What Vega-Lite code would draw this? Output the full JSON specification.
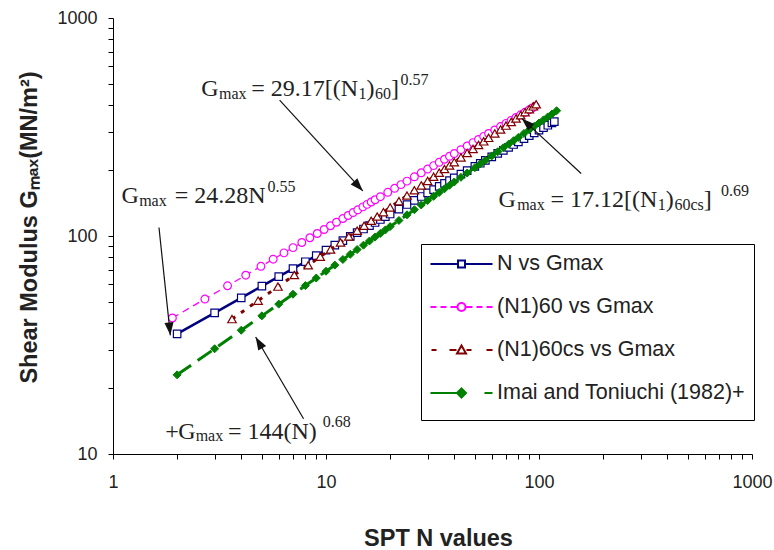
{
"$schema": "https://vega.github.io/schema/vega-lite/v6.json",
"width": 639, "height": 436,
"autosize": {"type": "none"},
"padding": {"left": 113, "top": 18, "right": 22, "bottom": 96},
"background": "white",
"config": {
  "view": {"stroke": null},
  "axis": {"grid": false, "domainColor": "#000", "domainWidth": 1, "tickColor": "#000", "tickWidth": 1, "tickSize": 5,
    "labelFont": "Liberation Sans", "labelFontSize": 18, "labelColor": "#222", "labelOverlap": false, "labelFlush": false,
    "titleFont": "Liberation Sans", "titleFontSize": 23.5, "titleFontWeight": "bold", "titleColor": "#222"},
  "legend": {"orient": "none", "legendX": 308, "legendY": 226, "title": null, "direction": "vertical",
    "symbolSize": 400, "symbolStrokeWidth": 2, "labelFont": "Liberation Sans", "labelFontSize": 21.5, "labelColor": "#222",
    "labelOffset": 45, "labelLimit": 400, "rowPadding": 7, "padding": 9, "strokeColor": "#000", "fillColor": "#fff"}
},
"datasets": {
  "pts": [
    {"s":"N vs Gmax","x":2,"y":35.55},{"s":"N vs Gmax","x":3,"y":44.43},{"s":"N vs Gmax","x":4,"y":52.05},{"s":"N vs Gmax","x":5,"y":58.84},
    {"s":"N vs Gmax","x":6,"y":65.05},{"s":"N vs Gmax","x":7,"y":70.8},{"s":"N vs Gmax","x":8,"y":76.2},{"s":"N vs Gmax","x":9,"y":81.3},
    {"s":"N vs Gmax","x":10,"y":86.15},{"s":"N vs Gmax","x":11,"y":90.79},{"s":"N vs Gmax","x":12,"y":95.23},{"s":"N vs Gmax","x":13,"y":99.52},
    {"s":"N vs Gmax","x":14,"y":103.66},{"s":"N vs Gmax","x":15,"y":107.67},{"s":"N vs Gmax","x":16,"y":111.56},{"s":"N vs Gmax","x":17,"y":115.34},
    {"s":"N vs Gmax","x":18,"y":119.04},{"s":"N vs Gmax","x":19,"y":122.63},{"s":"N vs Gmax","x":20,"y":126.14},{"s":"N vs Gmax","x":22,"y":132.92},
    {"s":"N vs Gmax","x":24,"y":139.44},{"s":"N vs Gmax","x":26,"y":145.7},{"s":"N vs Gmax","x":28,"y":151.76},{"s":"N vs Gmax","x":30,"y":157.64},
    {"s":"N vs Gmax","x":32,"y":163.33},{"s":"N vs Gmax","x":34,"y":168.87},{"s":"N vs Gmax","x":36,"y":174.26},{"s":"N vs Gmax","x":38,"y":179.53},
    {"s":"N vs Gmax","x":40,"y":184.67},{"s":"N vs Gmax","x":43,"y":192.16},{"s":"N vs Gmax","x":46,"y":199.42},{"s":"N vs Gmax","x":50,"y":208.78},
    {"s":"N vs Gmax","x":53,"y":215.58},{"s":"N vs Gmax","x":56,"y":222.21},{"s":"N vs Gmax","x":60,"y":230.81},{"s":"N vs Gmax","x":64,"y":239.14},
    {"s":"N vs Gmax","x":68,"y":247.24},{"s":"N vs Gmax","x":72,"y":255.14},{"s":"N vs Gmax","x":76,"y":262.86},{"s":"N vs Gmax","x":80,"y":270.36},
    {"s":"N vs Gmax","x":85,"y":279.54},{"s":"N vs Gmax","x":90,"y":288.45},{"s":"N vs Gmax","x":95,"y":297.16},{"s":"N vs Gmax","x":100,"y":305.66},
    {"s":"N vs Gmax","x":105,"y":313.99},{"s":"N vs Gmax","x":110,"y":322.12},{"s":"N vs Gmax","x":115,"y":330.09},{"s":"N vs Gmax","x":118,"y":334.8},

    {"s":"(N1)60 vs Gmax","x":1.9,"y":42.06},{"s":"(N1)60 vs Gmax","x":2.7,"y":51.37},{"s":"(N1)60 vs Gmax","x":3.45,"y":59.09},{"s":"(N1)60 vs Gmax","x":4.2,"y":66.1},
    {"s":"(N1)60 vs Gmax","x":4.95,"y":72.58},{"s":"(N1)60 vs Gmax","x":5.65,"y":78.29},{"s":"(N1)60 vs Gmax","x":6.35,"y":83.66},{"s":"(N1)60 vs Gmax","x":7,"y":88.44},
    {"s":"(N1)60 vs Gmax","x":7.7,"y":93.38},{"s":"(N1)60 vs Gmax","x":8.4,"y":98.13},{"s":"(N1)60 vs Gmax","x":9.1,"y":102.71},{"s":"(N1)60 vs Gmax","x":9.8,"y":107.14},
    {"s":"(N1)60 vs Gmax","x":10.5,"y":111.44},{"s":"(N1)60 vs Gmax","x":11.2,"y":115.61},{"s":"(N1)60 vs Gmax","x":12,"y":120.24},{"s":"(N1)60 vs Gmax","x":12.7,"y":124.19},
    {"s":"(N1)60 vs Gmax","x":13.4,"y":128.05},{"s":"(N1)60 vs Gmax","x":14.1,"y":131.83},{"s":"(N1)60 vs Gmax","x":14.9,"y":136.03},{"s":"(N1)60 vs Gmax","x":15.6,"y":139.64},
    {"s":"(N1)60 vs Gmax","x":16.3,"y":143.18},{"s":"(N1)60 vs Gmax","x":17,"y":146.65},{"s":"(N1)60 vs Gmax","x":18,"y":151.51},{"s":"(N1)60 vs Gmax","x":19.5,"y":158.59},
    {"s":"(N1)60 vs Gmax","x":21,"y":165.42},{"s":"(N1)60 vs Gmax","x":22.5,"y":172.05},{"s":"(N1)60 vs Gmax","x":24,"y":178.5},{"s":"(N1)60 vs Gmax","x":26,"y":186.83},
    {"s":"(N1)60 vs Gmax","x":28,"y":194.9},{"s":"(N1)60 vs Gmax","x":30,"y":202.72},{"s":"(N1)60 vs Gmax","x":32,"y":210.32},{"s":"(N1)60 vs Gmax","x":34,"y":217.71},
    {"s":"(N1)60 vs Gmax","x":36,"y":224.92},{"s":"(N1)60 vs Gmax","x":38,"y":231.96},{"s":"(N1)60 vs Gmax","x":40,"y":238.84},{"s":"(N1)60 vs Gmax","x":43,"y":248.9},
    {"s":"(N1)60 vs Gmax","x":46,"y":258.64},{"s":"(N1)60 vs Gmax","x":49,"y":268.13},{"s":"(N1)60 vs Gmax","x":52,"y":277.36},{"s":"(N1)60 vs Gmax","x":55,"y":286.37},
    {"s":"(N1)60 vs Gmax","x":58,"y":295.18},{"s":"(N1)60 vs Gmax","x":62,"y":306.61},{"s":"(N1)60 vs Gmax","x":66,"y":317.74},{"s":"(N1)60 vs Gmax","x":70,"y":328.57},
    {"s":"(N1)60 vs Gmax","x":74,"y":339.14},{"s":"(N1)60 vs Gmax","x":78,"y":349.47},{"s":"(N1)60 vs Gmax","x":82,"y":359.58},{"s":"(N1)60 vs Gmax","x":86,"y":369.48},
    {"s":"(N1)60 vs Gmax","x":90,"y":379.18},{"s":"(N1)60 vs Gmax","x":93,"y":386.33},{"s":"(N1)60 vs Gmax","x":96,"y":393.38},

    {"s":"(N1)60cs vs Gmax","x":3.62,"y":41.59},{"s":"(N1)60cs vs Gmax","x":4.8,"y":50.52},{"s":"(N1)60cs vs Gmax","x":5.95,"y":58.61},{"s":"(N1)60cs vs Gmax","x":7.1,"y":66.21},
    {"s":"(N1)60cs vs Gmax","x":8.25,"y":73.41},{"s":"(N1)60cs vs Gmax","x":9.4,"y":80.35},{"s":"(N1)60cs vs Gmax","x":10.5,"y":86.75},{"s":"(N1)60cs vs Gmax","x":11.7,"y":93.44},
    {"s":"(N1)60cs vs Gmax","x":12.8,"y":99.42},{"s":"(N1)60cs vs Gmax","x":14,"y":105.76},{"s":"(N1)60cs vs Gmax","x":15.1,"y":111.43},{"s":"(N1)60cs vs Gmax","x":16.3,"y":117.46},
    {"s":"(N1)60cs vs Gmax","x":17.4,"y":122.87},{"s":"(N1)60cs vs Gmax","x":18.6,"y":128.65},{"s":"(N1)60cs vs Gmax","x":20,"y":135.26},{"s":"(N1)60cs vs Gmax","x":22,"y":144.43},
    {"s":"(N1)60cs vs Gmax","x":24,"y":153.36},{"s":"(N1)60cs vs Gmax","x":26,"y":162.08},{"s":"(N1)60cs vs Gmax","x":28,"y":170.61},{"s":"(N1)60cs vs Gmax","x":30,"y":178.93},
    {"s":"(N1)60cs vs Gmax","x":32,"y":187.08},{"s":"(N1)60cs vs Gmax","x":34,"y":195.08},{"s":"(N1)60cs vs Gmax","x":36,"y":202.92},{"s":"(N1)60cs vs Gmax","x":38,"y":210.63},
    {"s":"(N1)60cs vs Gmax","x":40,"y":218.21},{"s":"(N1)60cs vs Gmax","x":43,"y":229.38},{"s":"(N1)60cs vs Gmax","x":46,"y":240.31},{"s":"(N1)60cs vs Gmax","x":49,"y":251.03},
    {"s":"(N1)60cs vs Gmax","x":52,"y":261.54},{"s":"(N1)60cs vs Gmax","x":55,"y":271.86},{"s":"(N1)60cs vs Gmax","x":58,"y":282.01},{"s":"(N1)60cs vs Gmax","x":62,"y":295.29},
    {"s":"(N1)60cs vs Gmax","x":66,"y":308.3},{"s":"(N1)60cs vs Gmax","x":70,"y":321.08},{"s":"(N1)60cs vs Gmax","x":74,"y":333.62},{"s":"(N1)60cs vs Gmax","x":78,"y":345.96},
    {"s":"(N1)60cs vs Gmax","x":82,"y":358.11},{"s":"(N1)60cs vs Gmax","x":86,"y":370.08},{"s":"(N1)60cs vs Gmax","x":90,"y":381.88},{"s":"(N1)60cs vs Gmax","x":94,"y":393.5},
    {"s":"(N1)60cs vs Gmax","x":97,"y":402.12},

    {"s":"Imai and Toniuchi (1982)+","x":2,"y":23.07},{"s":"Imai and Toniuchi (1982)+","x":3,"y":30.39},{"s":"Imai and Toniuchi (1982)+","x":4,"y":36.96},{"s":"Imai and Toniuchi (1982)+","x":5,"y":43.02},
    {"s":"Imai and Toniuchi (1982)+","x":6,"y":48.7},{"s":"Imai and Toniuchi (1982)+","x":7,"y":54.08},{"s":"Imai and Toniuchi (1982)+","x":8,"y":59.22},{"s":"Imai and Toniuchi (1982)+","x":9,"y":64.16},
    {"s":"Imai and Toniuchi (1982)+","x":10,"y":68.93},{"s":"Imai and Toniuchi (1982)+","x":11,"y":73.54},{"s":"Imai and Toniuchi (1982)+","x":12,"y":78.02},{"s":"Imai and Toniuchi (1982)+","x":13,"y":82.39},
    {"s":"Imai and Toniuchi (1982)+","x":14,"y":86.64},{"s":"Imai and Toniuchi (1982)+","x":15,"y":90.8},{"s":"Imai and Toniuchi (1982)+","x":16,"y":94.87},{"s":"Imai and Toniuchi (1982)+","x":17,"y":98.87},
    {"s":"Imai and Toniuchi (1982)+","x":18,"y":102.79},{"s":"Imai and Toniuchi (1982)+","x":19,"y":106.64},{"s":"Imai and Toniuchi (1982)+","x":20,"y":110.42},{"s":"Imai and Toniuchi (1982)+","x":22,"y":117.82},
    {"s":"Imai and Toniuchi (1982)+","x":24,"y":125},{"s":"Imai and Toniuchi (1982)+","x":26,"y":132},{"s":"Imai and Toniuchi (1982)+","x":28,"y":138.82},{"s":"Imai and Toniuchi (1982)+","x":30,"y":145.49},
    {"s":"Imai and Toniuchi (1982)+","x":32,"y":152.02},{"s":"Imai and Toniuchi (1982)+","x":34,"y":158.41},{"s":"Imai and Toniuchi (1982)+","x":36,"y":164.68},{"s":"Imai and Toniuchi (1982)+","x":38,"y":170.84},
    {"s":"Imai and Toniuchi (1982)+","x":40,"y":176.9},{"s":"Imai and Toniuchi (1982)+","x":43,"y":185.81},{"s":"Imai and Toniuchi (1982)+","x":46,"y":194.53},{"s":"Imai and Toniuchi (1982)+","x":50,"y":205.88},
    {"s":"Imai and Toniuchi (1982)+","x":53,"y":214.2},{"s":"Imai and Toniuchi (1982)+","x":56,"y":222.37},{"s":"Imai and Toniuchi (1982)+","x":60,"y":233.04},{"s":"Imai and Toniuchi (1982)+","x":64,"y":243.5},
    {"s":"Imai and Toniuchi (1982)+","x":68,"y":253.75},{"s":"Imai and Toniuchi (1982)+","x":72,"y":263.8},{"s":"Imai and Toniuchi (1982)+","x":76,"y":273.67},{"s":"Imai and Toniuchi (1982)+","x":80,"y":283.38},
    {"s":"Imai and Toniuchi (1982)+","x":85,"y":295.31},{"s":"Imai and Toniuchi (1982)+","x":90,"y":307.01},{"s":"Imai and Toniuchi (1982)+","x":95,"y":318.51},{"s":"Imai and Toniuchi (1982)+","x":100,"y":329.81},
    {"s":"Imai and Toniuchi (1982)+","x":105,"y":340.93},{"s":"Imai and Toniuchi (1982)+","x":110,"y":351.9},{"s":"Imai and Toniuchi (1982)+","x":115,"y":362.7},{"s":"Imai and Toniuchi (1982)+","x":121,"y":375.54}
  ],
  "txt": [
    {"x":2.599,"y":438.4,"t":"G","k":"m"},{"x":3.143,"y":424.6,"t":"max","k":"b"},{"x":4.461,"y":438.4,"t":"= 29.17[(N","k":"m"},
    {"x":14.22,"y":424.6,"t":"1","k":"b"},{"x":15.5,"y":438.4,"t":")","k":"m"},{"x":16.99,"y":424.6,"t":"60","k":"b"},
    {"x":20.2,"y":438.4,"t":"]","k":"m"},{"x":22.38,"y":492.3,"t":"0.57","k":"p"},
    {"x":1.095,"y":140.96,"t":"G","k":"m"},{"x":1.327,"y":136.99,"t":"max","k":"b"},{"x":1.948,"y":140.96,"t":"= 24.28N","k":"m"},
    {"x":5.319,"y":159.67,"t":"0.55","k":"p"},
    {"x":1.7614,"y":11.744,"t":"+","k":"m"},{"x":2.023,"y":11.744,"t":"G","k":"m"},{"x":2.4441,"y":11.413,"t":"max","k":"b"},
    {"x":3.4636,"y":11.744,"t":"= 144(N)","k":"m"},{"x":9.667,"y":13.23,"t":"0.68","k":"p"},
    {"x":64.53,"y":135.55,"t":"G","k":"m"},{"x":78.97,"y":131.31,"t":"max","k":"b"},{"x":113.2,"y":135.55,"t":"= 17.12[(N","k":"m"},
    {"x":360.7,"y":131.31,"t":"1","k":"b"},{"x":394.1,"y":135.55,"t":")","k":"m"},{"x":432.1,"y":131.31,"t":"60cs","k":"b"},
    {"x":594.1,"y":135.55,"t":"]","k":"m"},{"x":715.3,"y":152.23,"t":"0.69","k":"p"}
  ],
  "arr": [
    {"id":"a1","x":6.056,"y":420.1,"x2":14.89,"y2":161.0},
    {"id":"a2","x":1.644,"y":109.35,"x2":1.859,"y2":35.02},
    {"id":"a3","x":7.847,"y":14.51,"x2":4.673,"y2":34.39},
    {"id":"a4","x":157.7,"y":193.6,"x2":82.98,"y2":346.3}
  ]
},
"layer": [
  {
    "data": {"name": "pts"},
    "transform": [{"filter": "datum.s == 'N vs Gmax'"}],
    "mark": {"type": "line", "color": "#000080", "strokeWidth": 2.5, "clip": true,
      "point": {"shape": "square", "size": 56, "filled": true, "fill": "#ffffff", "stroke": "#000080", "strokeWidth": 1.2, "opacity": 1}},
    "encoding": {
      "x": {"field": "x", "type": "quantitative", "scale": {"type": "log", "domain": [1, 1000], "nice": false},
        "axis": {"title": "SPT N values", "titleX": 325, "titleY": 91, "titleBaseline": "alphabetic", "titleAlign": "center", "titleAngle": 0,
          "values": [1,2,3,4,5,6,7,8,9,10,20,30,40,50,60,70,80,90,100,200,300,400,500,600,700,800,900,1000],
          "labelExpr": "indexof([1,10,100,1000], datum.value) >= 0 ? '' + datum.value : ''",
          "labelPadding": 14,
          "encode": {"ticks": {"update": {
            "y": [{"test": "indexof([1,10,100,1000], datum.value) >= 0", "value": -5}, {"value": 0}],
            "y2": [{"test": "indexof([1,10,100,1000], datum.value) >= 0", "value": 5}, {"value": -5}]}}}}},
      "y": {"field": "y", "type": "quantitative", "scale": {"type": "log", "domain": [10, 1000], "nice": false},
        "axis": {"title": "Shear Modulus Gₘₐₓ(MN/m²)", "titleX": -77, "titleY": 209, "titleAngle": -90, "titleBaseline": "alphabetic", "titleAlign": "center",
          "values": [10,20,30,40,50,60,70,80,90,100,200,300,400,500,600,700,800,900,1000],
          "labelExpr": "indexof([10,100,1000], datum.value) >= 0 ? '' + datum.value : ''",
          "labelPadding": 11,
          "encode": {"ticks": {"update": {
            "x": [{"test": "indexof([10,100,1000], datum.value) >= 0", "value": 5}, {"value": 0}],
            "x2": [{"test": "indexof([10,100,1000], datum.value) >= 0", "value": -5}, {"value": 5}]}}}}}
    }
  },
  {
    "data": {"name": "pts"},
    "transform": [{"filter": "datum.s == '(N1)60 vs Gmax'"}],
    "mark": {"type": "line", "color": "#FF00FF", "strokeWidth": 1.3, "strokeDash": [7, 5], "clip": true,
      "point": {"shape": "circle", "size": 60, "filled": true, "fill": "#ffffff", "stroke": "#FF00FF", "strokeWidth": 1.2, "opacity": 1}},
    "encoding": {
      "x": {"field": "x", "type": "quantitative", "scale": {"type": "log", "domain": [1, 1000], "nice": false}},
      "y": {"field": "y", "type": "quantitative", "scale": {"type": "log", "domain": [10, 1000], "nice": false}}
    }
  },
  {
    "data": {"name": "pts"},
    "transform": [{"filter": "datum.s == '(N1)60cs vs Gmax'"}],
    "mark": {"type": "line", "color": "#800000", "strokeWidth": 3, "strokeDash": [4, 7], "clip": true,
      "point": {"shape": "triangle-up", "size": 72, "filled": true, "fill": "#ffffff", "stroke": "#800000", "strokeWidth": 1.2, "opacity": 1}},
    "encoding": {
      "x": {"field": "x", "type": "quantitative", "scale": {"type": "log", "domain": [1, 1000], "nice": false}},
      "y": {"field": "y", "type": "quantitative", "scale": {"type": "log", "domain": [10, 1000], "nice": false}}
    }
  },
  {
    "data": {"name": "pts"},
    "transform": [{"filter": "datum.s == 'Imai and Toniuchi (1982)+'"}],
    "mark": {"type": "line", "color": "#008000", "strokeWidth": 3, "strokeDash": [17, 8], "clip": true,
      "point": {"shape": "diamond", "size": 64, "filled": true, "fill": "#008000", "stroke": "#008000", "strokeWidth": 1, "opacity": 1}},
    "encoding": {
      "x": {"field": "x", "type": "quantitative", "scale": {"type": "log", "domain": [1, 1000], "nice": false}},
      "y": {"field": "y", "type": "quantitative", "scale": {"type": "log", "domain": [10, 1000], "nice": false}}
    }
  },
  {
    "data": {"name": "pts"},
    "transform": [{"filter": "datum.x < 0"}],
    "mark": {"type": "point", "filled": true, "size": 400, "opacity": 1, "strokeWidth": 2},
    "encoding": {
      "x": {"field": "x", "type": "quantitative", "scale": {"type": "log", "domain": [1, 1000], "nice": false}},
      "y": {"field": "y", "type": "quantitative", "scale": {"type": "log", "domain": [10, 1000], "nice": false}},
      "stroke": {"field": "s", "type": "nominal",
        "scale": {"domain": ["N vs Gmax", "(N1)60 vs Gmax", "(N1)60cs vs Gmax", "Imai and Toniuchi (1982)+"], "range": ["#000080", "#FF00FF", "#800000", "#008000"]},
        "legend": {"title": null}},
      "shape": {"field": "s", "type": "nominal",
        "scale": {"domain": ["N vs Gmax", "(N1)60 vs Gmax", "(N1)60cs vs Gmax", "Imai and Toniuchi (1982)+"], "range": [
          "M-1.05,0H1.7M2.4,0H5.15M1.7,-0.35H2.4V0.35H1.7ZM2.05,-1.4L2.05,-1.399M2.05,1.4L2.05,1.399",
          "M-1.05,0H-0.45M-0.05,0H0.55M0.95,0H1.65M2.45,0H3.15M3.55,0H4.15M4.55,0H5.15M2.45,0A0.4,0.4,0,1,1,1.65,0A0.4,0.4,0,1,1,2.45,0ZM2.05,-1.4L2.05,-1.399M2.05,1.4L2.05,1.399",
          "M-0.95,0H-0.45M0.85,0H1.55M2.55,0H3.05M4.55,0H5.15M2.05,-0.45L2.5,0.35H1.6ZM2.05,-1.4L2.05,-1.399M2.05,1.4L2.05,1.399",
          "M-1.05,0H1.6M4.35,0H5.15M2.05,-0.45L2.5,0L2.05,0.45L1.6,0ZM2.05,-1.4L2.05,-1.399M2.05,1.4L2.05,1.399"]},
        "legend": {"title": null}},
      "fill": {"field": "s", "type": "nominal",
        "scale": {"domain": ["N vs Gmax", "(N1)60 vs Gmax", "(N1)60cs vs Gmax", "Imai and Toniuchi (1982)+"], "range": ["#ffffff", "#ffffff", "#ffffff", "#008000"]},
        "legend": {"title": null}}
    }
  },
  {
    "data": {"name": "arr"},
    "mark": {"type": "rule", "color": "#111", "strokeWidth": 1.2},
    "encoding": {
      "x": {"field": "x", "type": "quantitative", "scale": {"type": "log", "domain": [1, 1000], "nice": false}},
      "y": {"field": "y", "type": "quantitative", "scale": {"type": "log", "domain": [10, 1000], "nice": false}},
      "x2": {"field": "x2"},
      "y2": {"field": "y2"}
    }
  },
  {
    "data": {"name": "arr"},
    "mark": {"type": "point", "shape": "M0,0L-0.35,1L0.35,1Z", "filled": true, "color": "#111", "opacity": 1, "size": 676, "strokeWidth": 0,
      "angle": {"expr": "atan2(scale('x', datum.x2) - scale('x', datum.x), scale('y', datum.y) - scale('y', datum.y2)) * 180 / PI"}},
    "encoding": {
      "x": {"field": "x2", "type": "quantitative", "scale": {"type": "log", "domain": [1, 1000], "nice": false}},
      "y": {"field": "y2", "type": "quantitative", "scale": {"type": "log", "domain": [10, 1000], "nice": false}}
    }
  },
  {
    "data": {"name": "txt"},
    "transform": [{"filter": "datum.k == 'm'"}],
    "mark": {"type": "text", "align": "left", "baseline": "alphabetic", "font": "Liberation Serif", "fontSize": 24, "color": "#222"},
    "encoding": {
      "x": {"field": "x", "type": "quantitative", "scale": {"type": "log", "domain": [1, 1000], "nice": false}},
      "y": {"field": "y", "type": "quantitative", "scale": {"type": "log", "domain": [10, 1000], "nice": false}},
      "text": {"field": "t"}
    }
  },
  {
    "data": {"name": "txt"},
    "transform": [{"filter": "datum.k != 'm'"}],
    "mark": {"type": "text", "align": "left", "baseline": "alphabetic", "font": "Liberation Serif", "fontSize": 16, "color": "#222"},
    "encoding": {
      "x": {"field": "x", "type": "quantitative", "scale": {"type": "log", "domain": [1, 1000], "nice": false}},
      "y": {"field": "y", "type": "quantitative", "scale": {"type": "log", "domain": [10, 1000], "nice": false}},
      "text": {"field": "t"}
    }
  }
]
}
